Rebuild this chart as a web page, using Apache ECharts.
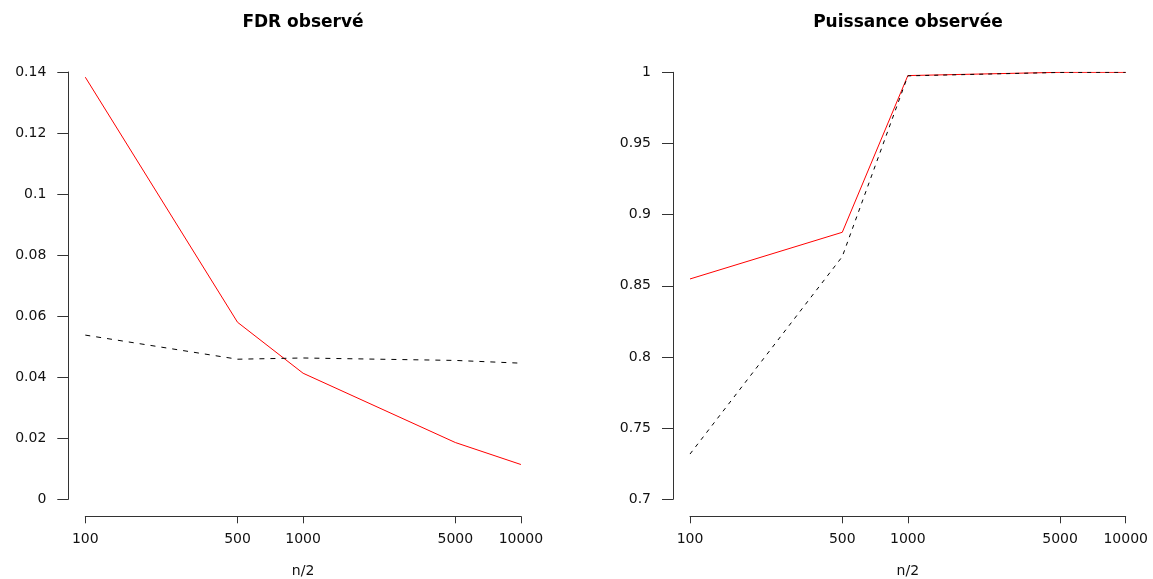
<!DOCTYPE html>
<html>
<head>
<meta charset="utf-8">
<script src="https://cdn.jsdelivr.net/npm/echarts@6/dist/echarts.min.js"></script>
<style>
  html, body { margin: 0; padding: 0; background: #fff; }
  #chart { width: 1153px; height: 579px; }
</style>
</head>
<body>
<div id="chart"></div>
<script>
// ---- data ----
var nValues = [100, 500, 1000, 5000, 10000];
var xTickLabels = [100, 500, 1000, 5000, 10000];
var fdrRed = [0.1383, 0.0580, 0.0413, 0.0186, 0.0114];
var fdrBlack = [0.0538, 0.0459, 0.0463, 0.0455, 0.0446];
var powerRed = [0.8548, 0.8876, 0.9977, 1.0, 1.0];
var powerBlack = [0.7318, 0.8705, 0.9975, 0.9999, 1.0];
var titles = ['FDR observé', 'Puissance observée'];
var xName = 'n/2';

function pairs(xs, ys) { return xs.map(function (x, i) { return [x, ys[i]]; }); }

var FONT = 'DejaVu Sans';
var TXT = '#111';
var AX = '#333';
var tickPos = xTickLabels.map(function (v) { return Math.log10(v); });

function logAxis(gi) {
  return { type: 'log', logBase: 10, gridIndex: gi, min: 100, max: 10000, show: false };
}
function tickAxis(gi) {
  return {
    type: 'value', gridIndex: gi, min: 2, max: 4, position: 'bottom', offset: 17,
    name: xName, nameLocation: 'middle', nameGap: 48,
    nameTextStyle: { fontFamily: FONT, fontSize: 14, color: TXT },
    axisLine: { show: true, lineStyle: { color: AX, width: 1 } },
    axisTick: { show: true, length: 7, customValues: tickPos, lineStyle: { color: AX } },
    axisLabel: {
      show: true, margin: 16, customValues: tickPos,
      fontFamily: FONT, fontSize: 14, color: TXT,
      formatter: function (v) { return String(Math.round(Math.pow(10, v))); }
    },
    splitLine: { show: false }
  };
}
function yAxis(gi, min, max, interval) {
  return {
    type: 'value', gridIndex: gi, min: min, max: max, interval: interval, offset: 17,
    axisLine: { show: true, lineStyle: { color: AX, width: 1 } },
    axisTick: { show: true, length: 11, lineStyle: { color: AX } },
    axisLabel: { margin: 22, fontFamily: FONT, fontSize: 14, color: TXT },
    splitLine: { show: false }
  };
}

var option = {
  animation: false,
  backgroundColor: '#fff',
  title: [
    { text: titles[0], left: 303, top: 14, textAlign: 'center', padding: 0,
      textStyle: { fontFamily: FONT, fontWeight: 'bold', fontSize: 17, color: '#000' } },
    { text: titles[1], left: 908, top: 14, textAlign: 'center', padding: 0,
      textStyle: { fontFamily: FONT, fontWeight: 'bold', fontSize: 17, color: '#000' } }
  ],
  grid: [
    { left: 85.3, top: 72, width: 435.6, height: 427.3, containLabel: false, outerBoundsMode: 'none' },
    { left: 690, top: 72.3, width: 435.7, height: 427, containLabel: false, outerBoundsMode: 'none' }
  ],
  xAxis: [logAxis(0), tickAxis(0), logAxis(1), tickAxis(1)],
  yAxis: [yAxis(0, 0, 0.14, 0.02), yAxis(1, 0.7, 1, 0.05)],
  series: [
    { type: 'line', xAxisIndex: 0, yAxisIndex: 0, data: pairs(nValues, fdrRed),
      showSymbol: false, lineStyle: { color: '#ff0000', width: 1 }, itemStyle: { color: '#ff0000' } },
    { type: 'line', xAxisIndex: 0, yAxisIndex: 0, data: pairs(nValues, fdrBlack),
      showSymbol: false, lineStyle: { color: '#000', width: 1, type: [5, 6] }, itemStyle: { color: '#000' } },
    { type: 'line', xAxisIndex: 2, yAxisIndex: 1, data: pairs(nValues, powerRed),
      showSymbol: false, lineStyle: { color: '#ff0000', width: 1 }, itemStyle: { color: '#ff0000' } },
    { type: 'line', xAxisIndex: 2, yAxisIndex: 1, data: pairs(nValues, powerBlack),
      showSymbol: false, lineStyle: { color: '#000', width: 1, type: [4, 5] }, itemStyle: { color: '#000' } }
  ]
};

var chart = echarts.init(document.getElementById('chart'), null, { renderer: 'canvas' });
chart.setOption(option);
</script>
</body>
</html>
